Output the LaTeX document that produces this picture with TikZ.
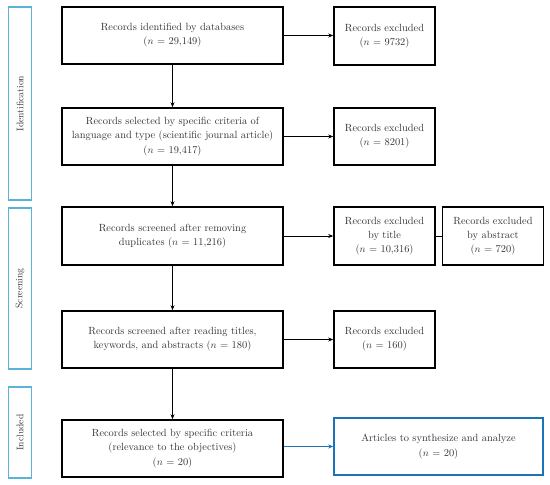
\documentclass[tikz,border=0pt]{standalone}
\usetikzlibrary{arrows.meta}
\definecolor{sideblue}{HTML}{5BB4D8}
\definecolor{boxblue}{HTML}{1A74B9}
\definecolor{txt}{HTML}{333333}
\begin{document}
\begin{tikzpicture}[x=1pt,y=-1pt,
  boxtext/.style={align=center,font=\fontsize{10.4}{14.2}\selectfont,text=txt,inner sep=0pt},
  mainbox/.style={boxtext,draw=black,line width=1.6pt,minimum width=221pt},
  exbox/.style={boxtext,draw=black,line width=1.6pt,minimum width=101pt},
  finalbox/.style={boxtext,draw=boxblue,line width=1.6pt,minimum width=209pt},
  sidebox/.style={draw=sideblue,line width=1.1pt,minimum width=23pt,inner sep=0pt},
  sidelabel/.style={rotate=90,font=\fontsize{9.6}{12}\selectfont,text=txt},
  arr/.style={-{Stealth[length=5pt,width=4pt]},line width=0.6pt},
  plain/.style={line width=0.6pt}]
\useasboundingbox (0,0) rectangle (550,485);
% side boxes
\node[sidebox,minimum height=193pt] (sid) at (20,103.5) {};
\node[sidelabel] (sidt) at (sid.center) {Identification};
\node[sidebox,minimum height=161pt] (sscr) at (20,288.5) {};
\node[sidelabel] (sscrt) at (sscr.center) {Screening};
\node[sidebox,minimum height=91pt] (sinc) at (20,432.5) {};
\node[sidelabel] (sinct) at (sinc.center) {Included};
% main boxes
\node[mainbox,minimum height=57pt] (b1) at (172.5,35.5) {Records identified by databases\\($n$ = 29,149)};
\node[mainbox,minimum height=57pt] (b2) at (172.5,136.5) {Records selected by specific criteria of\\language and type (scientific journal article)\\($n$ = 19,417)};
\node[mainbox,minimum height=58pt] (b3) at (172.5,236) {Records screened after removing\\duplicates ($n$ = 11,216)};
\node[mainbox,minimum height=57pt] (b4) at (172.5,339.5) {Records screened after reading titles,\\keywords, and abstracts ($n$ = 180)};
\node[mainbox,minimum height=57pt] (b5) at (172.5,448.5) {Records selected by specific criteria\\(relevance to the objectives)\\($n$ = 20)};
% exclusion boxes
\node[exbox,minimum height=58pt] (e1) at (384.5,36) {Records excluded\\($n$ = 9732)};
\node[exbox,minimum height=57pt] (e2) at (384.5,136.5) {Records excluded\\($n$ = 8201)};
\node[exbox,minimum height=58pt] (e3) at (384.5,236) {Records excluded\\by title\\($n$ = 10,316)};
\node[exbox,minimum height=58pt] (e3b) at (493,236) {Records excluded\\by abstract\\($n$ = 720)};
\node[exbox,minimum height=57pt] (e4) at (384.5,339.5) {Records excluded\\($n$ = 160)};
\node[finalbox,minimum height=57pt] (f) at (438.5,446.5) {Articles to synthesize and analyze\\($n$ = 20)};
% connectors
\draw[arr] (b1) -- (b2);
\draw[arr] (b2) -- (b3);
\draw[arr] (b3) -- (b4);
\draw[arr] (b4) -- (b5);
\draw[arr] (b1.east) -- (e1.west |- b1.east);
\draw[arr] (b2) -- (e2);
\draw[arr] (b3) -- (e3);
\draw[plain] (e3) -- (e3b);
\draw[arr] (b4) -- (e4);
\draw[arr,draw=boxblue,fill=boxblue] (b5.east |- f.west) -- (f.west);
\end{tikzpicture}
\end{document}
